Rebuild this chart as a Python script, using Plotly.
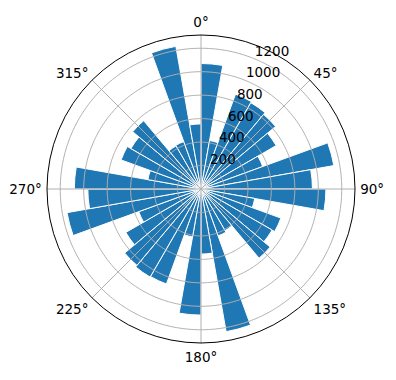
import plotly.graph_objects as go

# Direction sectors (degrees, clockwise from north), 10° wide bins
bin_start = list(range(0, 360, 10))
counts = [1070, 420, 860, 850, 830, 740, 560, 1150, 950,
          1065, 465, 725, 700, 770, 410, 425, 1235, 555,
          1075, 415, 862, 867, 850, 740, 565, 1160, 965,
          1080, 460, 725, 690, 760, 425, 430, 1235, 555]
r_ticks = [200, 400, 600, 800, 1000, 1200]
r_label_angle = 22.5
angle_ticks = [0, 45, 90, 135, 180, 225, 270, 315]
angle_labels = [f"{a}°" for a in angle_ticks]
r_max = 1313

BLUE = "#1f77b4"
GRID = "#b0b0b0"

fig = go.Figure()
fig.add_trace(go.Barpolar(
    r=counts,
    theta=[b + 5 for b in bin_start],
    width=[10] * len(counts),
    marker=dict(color=BLUE, line=dict(color="white", width=1)),
    showlegend=False,
))

# grid drawn above the bars (as matplotlib does)
circle_theta = list(range(0, 361, 1))
for rv in r_ticks:
    fig.add_trace(go.Scatterpolar(
        r=[rv] * len(circle_theta), theta=circle_theta, mode="lines",
        line=dict(color=GRID, width=1), showlegend=False, hoverinfo="skip"))
for a in angle_ticks:
    fig.add_trace(go.Scatterpolar(
        r=[0, r_max], theta=[a, a], mode="lines",
        line=dict(color=GRID, width=1), showlegend=False, hoverinfo="skip"))

# radial tick labels, anchored like matplotlib's (bottom-left at the tick)
fig.add_trace(go.Scatterpolar(
    r=r_ticks, theta=[r_label_angle] * len(r_ticks), mode="text",
    text=[str(v) for v in r_ticks], textposition="top right",
    textfont=dict(family="DejaVu Sans", size=13.5, color="black"),
    showlegend=False, hoverinfo="skip", cliponaxis=False))

W, H = 396, 380
cx, cy, R = 201, 189, 154
fig.update_layout(
    width=W, height=H,
    margin=dict(l=0, r=0, t=0, b=0),
    paper_bgcolor="white",
    font=dict(family="DejaVu Sans", size=13.5, color="black"),
    polar=dict(
        domain=dict(x=[(cx - R) / W, (cx + R) / W],
                    y=[1 - (cy + R) / H, 1 - (cy - R) / H]),
        bgcolor="white",
        bargap=0,
        angularaxis=dict(
            rotation=90, direction="clockwise",
            tickmode="array", tickvals=angle_ticks, ticktext=angle_labels,
            showgrid=False, showline=True, linecolor="black", linewidth=1,
            ticks="outside", ticklen=2, tickcolor="rgba(0,0,0,0)",
            tickfont=dict(family="DejaVu Sans", size=13.5, color="black"),
        ),
        radialaxis=dict(
            range=[0, r_max], tickmode="array", tickvals=r_ticks,
            showgrid=False, showline=False, ticks="", showticklabels=False,
        ),
    ),
)

fig.write_html("out.html")
